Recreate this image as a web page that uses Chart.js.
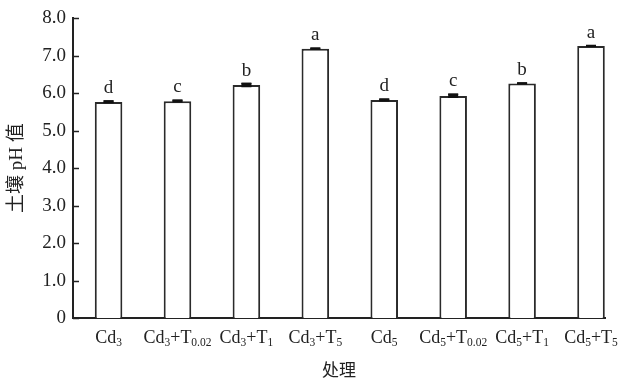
<!DOCTYPE html>
<html>
<head>
<meta charset="utf-8">
<script src="https://cdn.jsdelivr.net/npm/chart.js@4/dist/chart.umd.min.js"></script>
<style>
html,body{margin:0;padding:0;background:#fff;}
#wrap{width:627px;height:383px;position:relative;}
</style>
</head>
<body>
<div id="wrap"><canvas id="c" width="627" height="383"></canvas></div>
<script>
// Data
const categories = ["Cd3", "Cd3+T0.02", "Cd3+T1", "Cd3+T5", "Cd5", "Cd5+T0.02", "Cd5+T1", "Cd5+T5"];
const phValues = [5.77, 5.79, 6.22, 7.19, 5.82, 5.93, 6.26, 7.26];
const phErrors = [0.02, 0.02, 0.04, 0.01, 0.02, 0.04, 0.01, 0.01];
const sigLetters = ["d", "c", "b", "a", "d", "c", "b", "a"];
const yTickLabels = ["0", "1.0", "2.0", "3.0", "4.0", "5.0", "6.0", "7.0", "8.0"];
const yTitle = "土壤 pH 值";
const xTitle = "处理";

const SERIF = "'Liberation Serif', 'Times New Roman', serif";
const TEXT = "#222";

// Split a label like "Cd3+T0.02" into normal / subscript parts
function splitLabel(s) {
  const parts = [];
  const re = /([A-Za-z+]+)([0-9.]*)/g;
  let m;
  while ((m = re.exec(s)) !== null) {
    if (m[0] === "") { re.lastIndex++; continue; }
    parts.push({t: m[1], sub: false});
    if (m[2]) parts.push({t: m[2], sub: true});
  }
  return parts;
}

const annotate = {
  id: "annotate",
  afterDatasetsDraw(chart) {
    const ctx = chart.ctx;
    const meta = chart.getDatasetMeta(0);
    const y = chart.scales.y;
    const area = chart.chartArea;
    ctx.save();
    // inward y ticks
    ctx.strokeStyle = "#222";
    ctx.lineWidth = 1.5;
    y.ticks.forEach(t => {
      const py = Math.round(y.getPixelForValue(t.value)) + 0.5;
      ctx.beginPath();
      ctx.moveTo(area.left, py);
      ctx.lineTo(area.left + 6, py);
      ctx.stroke();
    });
    meta.data.forEach((bar, i) => {
      const v = phValues[i], e = phErrors[i];
      const top = y.getPixelForValue(v + e);
      const bot = y.getPixelForValue(v - e);
      // error bar
      ctx.strokeStyle = "#111";
      ctx.lineWidth = 1.2;
      ctx.beginPath();
      ctx.moveTo(bar.x, top); ctx.lineTo(bar.x, bot);
      ctx.moveTo(bar.x - 5, top); ctx.lineTo(bar.x + 5, top);
      ctx.moveTo(bar.x - 5, bot); ctx.lineTo(bar.x + 5, bot);
      ctx.stroke();
      ctx.fillStyle = "#111";
      ctx.fillRect(bar.x - 5, top - 1, 10, Math.max(2, bot - top + 1));
      // significance letter
      ctx.fillStyle = TEXT;
      ctx.font = "19px " + SERIF;
      ctx.textAlign = "center";
      ctx.textBaseline = "alphabetic";
      ctx.fillText(sigLetters[i], bar.x, top - 8);
      // x label with subscripts
      const parts = splitLabel(categories[i]);
      let w = 0;
      parts.forEach(p => {
        ctx.font = (p.sub ? "11.5px " : "18px ") + SERIF;
        p.w = ctx.measureText(p.t).width;
        w += p.w;
      });
      let px = bar.x - w / 2;
      ctx.textAlign = "left";
      parts.forEach(p => {
        ctx.font = (p.sub ? "11.5px " : "18px ") + SERIF;
        ctx.fillText(p.t, px, p.sub ? 346 : 343);
        px += p.w;
      });
    });
    ctx.restore();
  }
};

new Chart(document.getElementById("c"), {
  type: "bar",
  data: {
    datasets: [{
      data: phValues.map((v, i) => ({x: i, y: v})),
      backgroundColor: "#ffffff",
      borderColor: "#2a2a2a",
      borderWidth: 2,
      borderSkipped: "bottom",
      barPercentage: 0.4,
      categoryPercentage: 1.0
    }]
  },
  options: {
    responsive: false,
    animation: false,
    devicePixelRatio: 1,
    layout: {padding: {top: 16, right: 22, bottom: 0, left: 0}},
    plugins: {legend: {display: false}, tooltip: {enabled: false}},
    scales: {
      x: {
        type: "linear",
        offset: false,
        min: -0.516,
        max: 7.203,
        grid: {display: false},
        border: {display: true, color: "#222", width: 2},
        ticks: {display: false},
        title: {display: true, text: xTitle, color: TEXT,
          font: {family: "'Noto Sans CJK SC', sans-serif", size: 17}, padding: {top: 0, bottom: 3}},
        afterFit(scale) { scale.height = 65; }
      },
      y: {
        min: 0,
        max: 8,
        grid: {display: false, drawTicks: false},
        border: {display: true, color: "#222", width: 2},
        ticks: {
          stepSize: 1,
          color: TEXT,
          padding: 7,
          font: {family: SERIF, size: 19},
          callback: (v, idx) => yTickLabels[idx]
        },
        title: {display: true, text: yTitle, color: TEXT,
          font: {family: "'Liberation Serif', 'Noto Sans CJK SC', serif", size: 19}, padding: {top: 6, bottom: 0}},
        afterFit(scale) { scale.width = 73; }
      }
    }
  },
  plugins: [annotate]
});
</script>
</body>
</html>
